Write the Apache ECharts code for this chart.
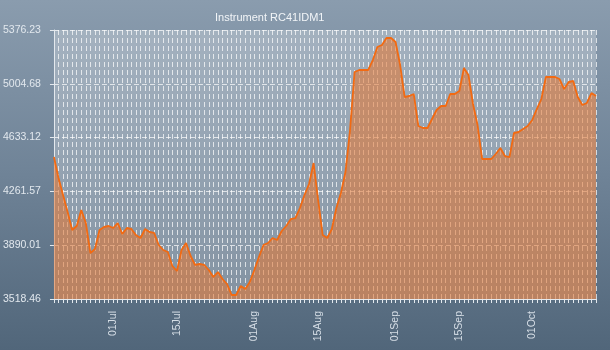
<!DOCTYPE html>
<html>
<head>
<meta charset="utf-8">
<script src="https://cdn.jsdelivr.net/npm/echarts@6/dist/echarts.min.js"></script>
<style>
html,body{margin:0;padding:0;}
#chart{width:610px;height:350px;background:linear-gradient(to bottom,#8a9cae 0%,#6f8397 50%,#51667a 100%);}
</style>
</head>
<body>
<div id="chart"></div>
<script>
// ---- data ----
const chartTitle = 'Instrument RC41IDM1';
const monthNames = ['Jan','Feb','Mar','Apr','May','Jun','Jul','Aug','Sep','Oct','Nov','Dec'];
const startYear = 2010, startMonth = 5, startDay = 18; // 18 Jun
const values = [
 4499.1, 4354.1, 4236.7, 4119.3, 3995.0, 4022.6, 4133.1, 4043.3, 3836.1, 3863.8,
 3995.0, 4015.7, 4022.6, 4008.8, 4043.3, 3967.4, 4008.8, 4001.9, 3960.5, 3939.7,
 4001.9, 3981.2, 3974.3, 3891.4, 3856.9, 3843.0, 3746.4, 3711.8, 3856.9, 3905.2,
 3815.4, 3753.3, 3760.2, 3753.3, 3718.7, 3670.4, 3704.9, 3656.6, 3622.1, 3546.1,
 3546.1, 3608.2, 3587.5, 3635.9, 3718.7, 3808.5, 3891.4, 3905.2, 3939.7, 3925.9,
 3988.1, 4022.6, 4070.9, 4077.8, 4146.9, 4236.7, 4312.6, 4457.7, 4202.2, 3960.5,
 3939.7, 4001.9, 4146.9, 4250.5, 4395.5, 4685.6, 5086.1, 5100.0, 5100.0, 5100.0,
 5169.0, 5258.8, 5272.6, 5321.0, 5321.0, 5293.3, 5134.5, 4913.5, 4920.4, 4934.2,
 4713.2, 4699.4, 4699.4, 4761.5, 4823.7, 4851.3, 4851.3, 4934.2, 4934.2, 4954.9,
 5113.8, 5065.4, 4865.1, 4720.1, 4485.3, 4485.3, 4485.3, 4519.8, 4561.3, 4506.0,
 4499.1, 4664.9, 4671.8, 4692.5, 4713.2, 4754.6, 4830.6, 4899.7, 5051.6, 5051.6,
 5051.6, 5037.8, 4968.7, 5017.1, 5024.0, 4913.5, 4858.2, 4872.1, 4941.1, 4920.4
];
const yTickLabels = ['3518.46','3890.01','4261.57','4633.12','5004.68','5376.23'];
const yMin = 3518.46, yMax = 5376.23;

// categories: one per day
const categories = [];
const dayOfMonth = [];
for (let i = 0; i < values.length; i++) {
  const d = new Date(Date.UTC(startYear, startMonth, startDay + i));
  const dd = d.getUTCDate();
  dayOfMonth.push(dd);
  categories.push((dd < 10 ? '0' + dd : '' + dd) + monthNames[d.getUTCMonth()]);
}

const FONT = 'Liberation Sans';
const chart = echarts.init(document.getElementById('chart'), null, {renderer: 'canvas'});
chart.setOption({
  backgroundColor: 'transparent',
  animation: false,
  title: {
    text: chartTitle,
    left: 210, top: 7,
    textStyle: {color: '#f2f5f8', fontSize: 11, fontWeight: 'normal', fontFamily: FONT}
  },
  grid: {
    left: 50, right: 14, top: 30, bottom: 51,
    show: true,
    backgroundColor: 'rgba(255,255,255,0.25)',
    borderWidth: 0
  },
  xAxis: {
    type: 'category',
    data: categories,
    boundaryGap: false,
    axisLine: {show: true, lineStyle: {color: '#e4e9ee', width: 1}},
    axisTick: {show: true, interval: 0, length: 4, lineStyle: {color: '#e4e9ee'}},
    axisLabel: {
      interval: (idx) => idx < categories.length - 1 && (dayOfMonth[idx] === 1 || dayOfMonth[idx] === 15),
      rotate: 90, margin: 12,
      color: '#d6dee6', fontSize: 10.5, fontFamily: FONT
    },
    splitLine: {show: true, interval: 0, lineStyle: {color: 'rgba(255,255,255,0.7)', type: [5, 3], width: 1}}
  },
  yAxis: [
    {
      type: 'value', position: 'right', min: yMin, max: yMax, show: false
    },
    {
      type: 'value', position: 'left', min: 0, max: yTickLabels.length - 1, interval: 1,
      axisLine: {show: true, lineStyle: {color: '#e4e9ee', width: 1}},
      axisTick: {show: true, length: 4, lineStyle: {color: '#e4e9ee'}},
      axisLabel: {
        formatter: (v) => yTickLabels[Math.round(v)],
        margin: 13, color: '#e2e8ee', fontSize: 10.5, fontFamily: FONT
      },
      splitLine: {show: true, lineStyle: {color: 'rgba(255,255,255,0.7)', type: [5, 3], width: 1}}
    }
  ],
  series: [{
    type: 'line',
    yAxisIndex: 0,
    data: values,
    showSymbol: false,
    lineStyle: {color: '#f26a12', width: 1.8},
    areaStyle: {color: 'rgba(228,118,48,0.8)'}
  }]
});
</script>
</body>
</html>
